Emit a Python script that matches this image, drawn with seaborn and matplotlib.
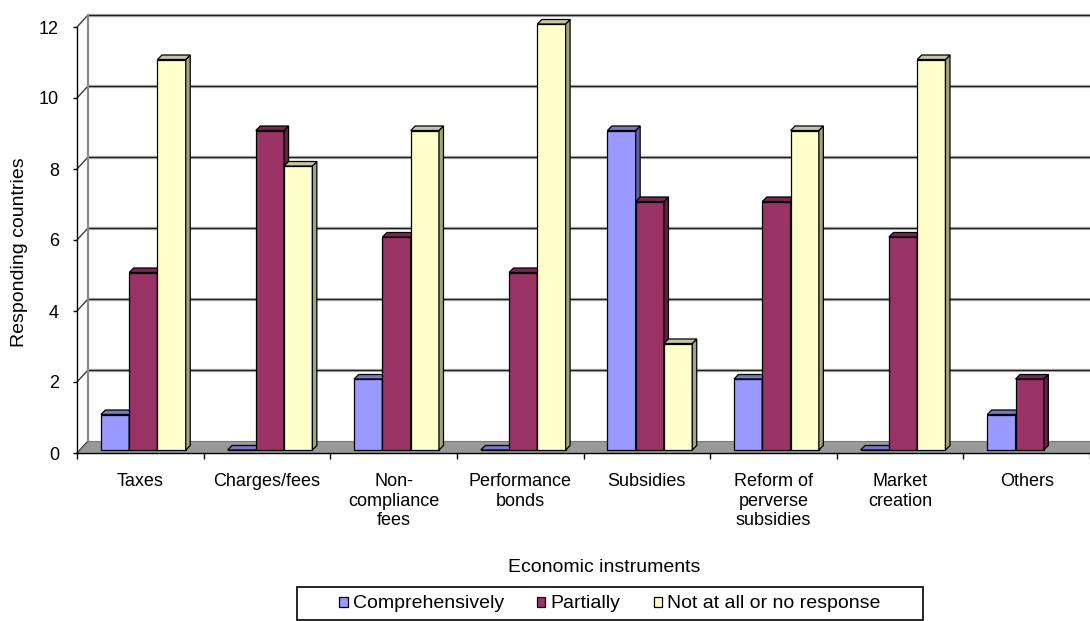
import numpy as np
import pandas as pd
import matplotlib
matplotlib.use("Agg")
import matplotlib.pyplot as plt
import matplotlib.colors as mcolors
from matplotlib.patches import Polygon, Rectangle
from matplotlib.transforms import ScaledTranslation
import seaborn as sns

# ---- data -------------------------------------------------------------
instruments = ["Taxes", "Charges/fees", "Non-compliance fees", "Performance bonds",
               "Subsidies", "Reform of perverse subsidies", "Market creation", "Others"]
tick_labels = ["Taxes", "Charges/fees", "Non-\ncompliance\nfees", "Performance\nbonds",
               "Subsidies", "Reform of\nperverse\nsubsidies", "Market\ncreation", "Others"]
series_names = ["Comprehensively", "Partially", "Not at all or no response"]
comprehensively = [1, 0, 2, 0, 9, 2, 0, 1]
partially = [5, 9, 6, 5, 7, 7, 6, 2]
not_at_all = [11, 8, 9, 12, 3, 9, 11, np.nan]
colors = ["#9999FF", "#993366", "#FFFFCC"]
y_ticks = [0, 2, 4, 6, 8, 10, 12]

df = pd.DataFrame({
    "instrument": instruments,
    series_names[0]: comprehensively,
    series_names[1]: partially,
    series_names[2]: not_at_all,
}).melt(id_vars="instrument", var_name="response", value_name="countries")

# ---- figure -----------------------------------------------------------
sns.set_theme(style="white")
plt.rcParams["font.family"] = ["Liberation Sans", "DejaVu Sans"]
plt.rcParams["text.color"] = "black"

W, H = 1090, 621
DPI = 100
fig = plt.figure(figsize=(W / DPI, H / DPI), dpi=DPI)
fig.patch.set_facecolor("white")
ax = fig.add_axes([77 / W, (H - 453) / H, 1013 / W, 426 / H])
ax.set_facecolor("none")

sns.barplot(data=df, x="instrument", y="countries", hue="response",
            order=instruments, hue_order=series_names, palette=colors,
            width=0.67, saturation=1, errorbar=None, edgecolor="black",
            linewidth=0.9, legend=False, ax=ax)

ax.set_xlim(-0.5, len(instruments) - 0.5)
ax.set_ylim(0, 12)


def px_to_data(dx, dy):
    p0 = ax.transData.transform((0, 0))
    p1 = ax.transData.transform((1, 1))
    return dx / (p1[0] - p0[0]), dy / (p1[1] - p0[1])


def shade(color, f):
    r, g, b = mcolors.to_rgb(color)
    return (r * f, g * f, b * f)


x_lo, x_hi = ax.get_xlim()

# ---- back wall, floor and gridlines (oblique 3-D frame) ---------------
bx, by = px_to_data(11, 12)
floor = Polygon([(x_lo, 0), (x_hi + bx, 0), (x_hi + bx, by), (x_lo + bx, by)],
                closed=True, facecolor="#999999", edgecolor="#7a7a7a",
                linewidth=0.8, zorder=1, clip_on=False)
ax.add_patch(floor)
ax.plot([x_lo + bx, x_lo + bx], [by, 12 + by], color="#8a8a8a", lw=1.6,
        zorder=0.6, clip_on=False)
for v in y_ticks:
    if v > 0:
        ax.plot([x_lo + bx, x_hi + bx], [v + by, v + by], color="#bdbdbd",
                lw=2.4, zorder=0.5, clip_on=False, solid_capstyle="butt")
        ax.plot([x_lo + bx, x_hi + bx], [v + by, v + by], color="#1e1e1e",
                lw=1.0, zorder=0.55, clip_on=False, solid_capstyle="butt")
    ax.plot([x_lo, x_lo + bx], [v, v + by], color="#3a3a3a", lw=1.0,
            zorder=0.55, clip_on=False)

# ---- bars: front face shifted into the depth, plus top and side faces --
shift = ScaledTranslation(3 / DPI, 3 / DPI, fig.dpi_scale_trans)
dx, dy = px_to_data(4.5, 4.5)
for j, cont in enumerate(ax.containers):
    z = 3 + j
    for bar in cont.patches:
        h = bar.get_height()
        if not np.isfinite(h):
            bar.set_visible(False)
            continue
        x0 = bar.get_x()
        x1 = x0 + bar.get_width()
        fc = bar.get_facecolor()
        bar.set_transform(ax.transData + shift)
        bar.set_zorder(z)
        bar.set_clip_on(False)
        top = Polygon([(x0, h), (x1, h), (x1 + dx, h + dy), (x0 + dx, h + dy)],
                      closed=True, facecolor=shade(fc, 0.78), edgecolor="black",
                      linewidth=0.9, transform=ax.transData + shift, zorder=z,
                      clip_on=False)
        side = Polygon([(x1, 0), (x1, h), (x1 + dx, h + dy), (x1 + dx, dy)],
                       closed=True, facecolor=shade(fc, 0.64), edgecolor="black",
                       linewidth=0.9, transform=ax.transData + shift, zorder=z,
                       clip_on=False)
        ax.add_patch(side)
        ax.add_patch(top)

# ---- axes, ticks and labels -------------------------------------------
ax.grid(False)
for name in ("top", "right"):
    ax.spines[name].set_visible(False)
for name in ("left", "bottom"):
    ax.spines[name].set_visible(True)
    ax.spines[name].set_color("black")
    ax.spines[name].set_linewidth(1.0)
    ax.spines[name].set_zorder(2.5)

ax.set_yticks(y_ticks)
ax.set_yticklabels([str(v) for v in y_ticks])
ax.tick_params(axis="y", which="major", left=True, direction="out", length=3,
               width=1, color="black", pad=10, labelsize=13, labelcolor="black")

ax.set_xticks(range(len(instruments)))
ax.set_xticklabels(tick_labels, fontsize=13, linespacing=1.2, color="black")
ax.set_xticks(np.arange(x_lo, x_hi + 0.01, 1.0), minor=True)
ax.tick_params(axis="x", which="major", bottom=True, length=0, pad=14.5)
ax.tick_params(axis="x", which="minor", bottom=True, direction="out", length=4,
               width=1, color="black")

ax.set_xlabel("Economic instruments", fontsize=14, color="black", va="center")
ax.xaxis.set_label_coords((604 - 77) / 1013, (453 - 568) / 426)
ax.set_ylabel("Responding countries", fontsize=14, color="black", va="center")
ax.yaxis.set_label_coords((20 - 77) / 1013, (453 - 252) / 426)

# ---- legend -----------------------------------------------------------
fig.legend(list(ax.containers), series_names, loc="center",
           bbox_to_anchor=(610 / W, 1 - 604 / H), ncol=3, frameon=False,
           fontsize=14, handlelength=0.42, handleheight=0.42,
           handletextpad=0.28, columnspacing=1.7)
fig.add_artist(Rectangle((297 / W, 1.5 / H), (923 - 297) / W, (619.5 - 587) / H,
                         transform=fig.transFigure, fill=False,
                         edgecolor="black", linewidth=1.2))

fig.savefig("out.png", dpi=DPI, facecolor="white")
